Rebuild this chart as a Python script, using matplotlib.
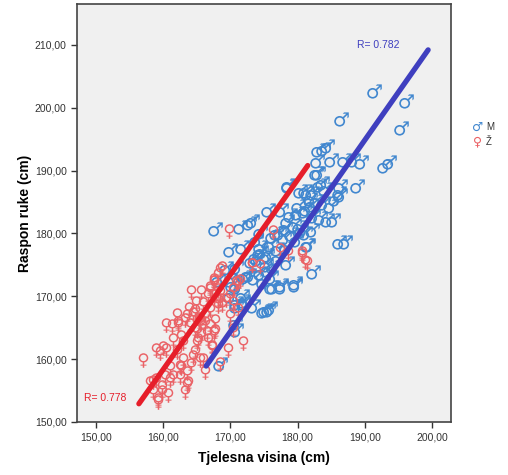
import numpy as np
import matplotlib.pyplot as plt
from matplotlib.ticker import FuncFormatter

# tjelesna visina (x) i raspon ruke (y), procijenjeno sa slike
m_visina = [191.4, 196.1, 186.4, 195.4, 183.1, 183.7, 184.4, 182.9, 184.9, 186.9, 188.3,
            189.4, 192.8, 193.6, 183.1, 183.2, 186.3, 188.8, 186.3, 181.1, 182.1, 183.6,
            186.1, 178.6, 167.7, 171.4, 172.7, 175.6, 177.6, 178.6, 181.4, 180.4, 182.8,
            178.9, 179.9, 180.9, 182.3, 183.3, 184.3, 185.3, 181.8, 182.8, 183.8, 184.8,
            174.4, 177.9, 169.9, 171.7, 174.4, 175.9, 181.6, 173.7, 174.2, 175.1, 178.4,
            182.3, 169.4, 170.9, 172.7, 174.4, 175.4, 176.4, 174.9, 176.1, 177.6, 179.6,
            170.2, 171.7, 173.4, 174.9, 175.6, 170.9, 171.9, 168.2, 176.4, 177.6, 179.6,
            175.1, 175.9, 186.1, 187.1, 181.4, 178.4, 173.2, 181.1, 182.1, 168.5, 169.9,
            170.9, 172.4, 170.9, 171.9, 170.7, 170.9, 169.9, 176.8, 178.1, 179.4, 180.2,
            173.8, 176.2, 177.3, 179.0, 180.5, 181.3, 182.0, 174.5, 175.5, 176.9, 178.2,
            179.7, 173.0, 174.0, 175.3, 177.0, 172.0, 173.5, 176.0, 184.0, 185.6, 180.0]
m_raspon = [202.6, 201.0, 198.2, 196.7, 193.3, 193.4, 193.9, 191.6, 191.7, 191.7, 191.7,
            191.4, 190.8, 191.3, 189.6, 187.7, 187.5, 187.5, 186.1, 186.7, 186.4, 188.0,
            186.4, 187.7, 180.7, 181.1, 181.6, 183.8, 183.8, 187.5, 186.4, 186.7, 189.6,
            183.0, 183.2, 183.5, 182.7, 182.4, 182.2, 182.2, 185.4, 185.1, 184.8, 184.3,
            180.3, 179.3, 177.4, 177.8, 177.9, 178.2, 178.2, 176.3, 176.9, 176.3, 175.3,
            173.9, 174.5, 174.7, 173.4, 173.7, 174.2, 174.7, 172.3, 171.5, 171.8, 171.8,
            171.8, 170.0, 168.4, 167.6, 167.8, 168.4, 168.9, 172.6, 171.5, 171.5, 172.1,
            167.8, 168.1, 178.7, 178.7, 178.2, 181.9, 181.9, 180.0, 180.6, 159.3, 172.6,
            171.5, 173.4, 168.9, 169.2, 165.7, 164.6, 170.0, 180.0, 180.8, 181.3, 181.0,
            179.0, 179.6, 180.1, 179.9, 180.4, 183.9, 184.6, 177.1, 176.6, 177.5, 177.7,
            178.9, 175.6, 175.9, 175.0, 176.0, 173.0, 172.9, 173.0, 187.0, 185.5, 184.3]

z_visina = [157.0, 164.2, 165.7, 167.5, 168.5, 160.5, 161.3, 162.2, 163.2, 162.0, 159.0,
            160.0, 159.5, 160.5, 161.5, 162.7, 161.0, 161.5, 162.5, 163.5, 163.7, 163.2,
            160.8, 159.3, 158.5, 159.8, 160.3, 159.0, 158.0, 164.5, 166.0, 166.2, 165.0,
            164.7, 165.5, 166.2, 167.0, 167.7, 168.2, 166.7, 167.5, 167.2, 169.7, 171.9,
            168.5, 168.7, 169.9, 169.9, 170.4, 171.2, 170.9, 171.4, 173.2, 162.2, 163.5,
            164.0, 164.7, 165.5, 166.2, 167.0, 165.0, 165.7, 166.5, 167.7, 165.2, 166.7,
            167.0, 167.5, 168.2, 168.5, 167.5, 168.2, 162.0, 163.0, 164.7, 165.5, 164.2,
            162.7, 167.2, 162.5, 161.0, 159.8, 158.5, 159.3, 163.5, 169.8, 176.4, 177.4,
            178.6, 180.6, 181.4, 173.2, 174.4, 168.7, 180.6, 181.1, 167.5, 167.0, 168.5,
            170.4, 171.2, 169.4, 170.4, 168.2, 163.8, 164.9, 166.0, 165.3, 164.4, 163.0]
z_raspon = [159.9, 170.7, 170.7, 172.2, 174.2, 165.4, 165.2, 165.4, 166.2, 167.0, 161.5,
            161.7, 160.9, 161.5, 163.1, 163.6, 158.6, 157.2, 158.8, 157.8, 156.2, 154.8,
            154.3, 153.2, 154.8, 154.8, 157.2, 156.7, 156.2, 160.4, 159.9, 158.0, 162.5,
            164.6, 165.7, 166.8, 167.8, 166.0, 169.2, 170.0, 164.1, 162.0, 161.5, 162.5,
            159.3, 168.6, 170.0, 166.8, 164.6, 167.8, 172.1, 172.4, 175.0, 165.7, 166.8,
            165.4, 167.6, 166.2, 165.7, 165.2, 164.4, 163.9, 164.1, 164.4, 163.1, 163.1,
            171.0, 170.0, 171.0, 169.4, 172.3, 173.4, 161.2, 159.9, 161.2, 159.9, 159.1,
            158.6, 161.7, 157.2, 156.7, 155.6, 156.4, 153.5, 155.9, 180.4, 180.3, 177.4,
            176.9, 176.6, 175.3, 175.0, 174.8, 174.5, 176.9, 175.5, 172.6, 171.3, 170.5,
            171.0, 172.1, 169.4, 168.9, 168.4, 168.0, 169.0, 168.8, 166.4, 167.2, 162.6]

# krajevi linija regresije
m_linija_x = [166.4, 199.4]
m_linija_y = [158.9, 209.2]
z_linija_x = [156.4, 181.5]
z_linija_y = [152.9, 190.8]

plt.rcParams['font.family'] = ['Liberation Sans', 'DejaVu Sans']

fig = plt.figure(figsize=(5.08, 4.75), dpi=100)
ax = fig.add_axes([77/508, 1 - 422/475, 374/508, 418/475])
ax.set_facecolor('#f0f0f0')

plave = '#4187cf'
crvene = '#ea6266'
ax.scatter(m_visina, m_raspon, marker='$♂$', s=110, color=plave, linewidths=0, zorder=2)
ax.scatter(z_visina, z_raspon, marker='$♀$', s=110, color=crvene, linewidths=0, zorder=2)

ax.plot(z_linija_x, z_linija_y, color='#e61e2a', lw=3.8, solid_capstyle='round', zorder=3)
ax.plot(m_linija_x, m_linija_y, color='#3f3fbf', lw=3.8, solid_capstyle='round', zorder=3)

ax.text(192.0, 210.0, 'R= 0.782', color='#3f3fbf', fontsize=7.5, ha='center', va='center', zorder=4)
ax.text(151.4, 153.8, 'R= 0.778', color='#e61e2a', fontsize=7.5, ha='center', va='center', zorder=4)

ax.set_xlim(147.2, 202.8)
ax.set_ylim(150, 216.5)
ax.set_xticks([150, 160, 170, 180, 190, 200])
ax.set_yticks([150, 160, 170, 180, 190, 200, 210])
fmt = FuncFormatter(lambda v, p: f'{v:.2f}'.replace('.', ','))
ax.xaxis.set_major_formatter(fmt)
ax.yaxis.set_major_formatter(fmt)
ax.tick_params(direction='out', length=4, width=1, labelsize=7.5, colors='#333333')
for s in ax.spines.values():
    s.set_color('#444444')
    s.set_linewidth(1.2)

ax.set_xlabel('Tjelesna visina (cm)', fontsize=10, fontweight='bold', labelpad=6)
ax.set_ylabel('Raspon ruke (cm)', fontsize=10, fontweight='bold', labelpad=2)

# legenda desno
fig.text(478/508, 1 - 127/475, '♂', color=plave, fontsize=9, ha='center', va='center',
         family='DejaVu Sans')
fig.text(486/508, 1 - 127/475, 'M', color='#333333', fontsize=7, ha='left', va='center')
fig.text(478/508, 1 - 142/475, '♀', color=crvene, fontsize=9, ha='center', va='center',
         family='DejaVu Sans')
fig.text(486/508, 1 - 142/475, 'Ž', color='#333333', fontsize=7, ha='left', va='center')

fig.savefig('out.png', dpi=100)
